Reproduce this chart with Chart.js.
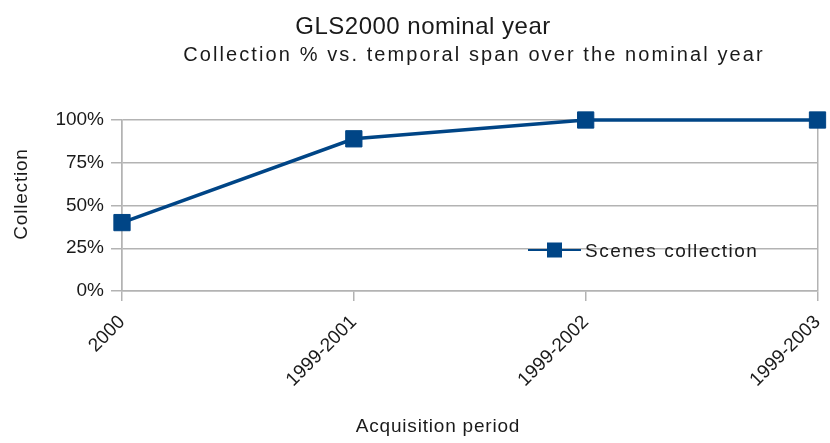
<!DOCTYPE html>
<html>
<head>
<meta charset="utf-8">
<script src="https://cdn.jsdelivr.net/npm/chart.js@4.4.0/dist/chart.umd.min.js"></script>
<style>
html,body{margin:0;padding:0;background:#fff;}
#wrap{width:830px;height:443px;position:relative;}
</style>
</head>
<body>
<div id="wrap"><canvas id="c"></canvas></div>
<script>
// ---- data ----
const chartTitle = 'GLS2000 nominal year';
const chartSubtitle = 'Collection % vs. temporal span over the nominal year';
const xAxisTitle = 'Acquisition period';
const yAxisTitle = 'Collection';
const categories = ['2000', '1999-2001', '1999-2002', '1999-2003'];
const seriesName = 'Scenes collection';
const collectionPct = [40, 89, 100, 100];
const yTickValues = [0, 25, 50, 75, 100];

// ---- style ----
const FONT = '"Liberation Sans", Arial, sans-serif';
const TEXT = '#1a1a1a';
const GRID = '#b3b3b3';
const BLUE = '#004586';

const decorations = {
  id: 'decorations',
  beforeDraw(chart) {
    const {ctx, width, height} = chart;
    ctx.save();
    ctx.fillStyle = '#fff';
    ctx.fillRect(0, 0, width, height);
    ctx.restore();
  },
  afterDraw(chart) {
    const ctx = chart.ctx;
    const a = chart.chartArea;
    ctx.save();
    ctx.fillStyle = TEXT;
    ctx.textBaseline = 'alphabetic';
    ctx.textAlign = 'center';
    // title
    ctx.font = '24px ' + FONT;
    ctx.letterSpacing = '0.5px';
    ctx.fillText(chartTitle, 423, 34);
    // subtitle
    ctx.font = '20px ' + FONT;
    ctx.letterSpacing = '2.1px';
    ctx.fillText(chartSubtitle, 474, 61);
    // x axis title
    ctx.font = '19px ' + FONT;
    ctx.letterSpacing = '0.8px';
    ctx.fillText(xAxisTitle, 438, 432);
    // y axis title
    ctx.save();
    ctx.translate(27, 194);
    ctx.rotate(-Math.PI / 2);
    ctx.fillText(yAxisTitle, 0, 0);
    ctx.restore();
    // legend (inside plot area)
    const ds = chart.data.datasets[0];
    const lx = a.left + 406, ly = a.top + 130;
    ctx.strokeStyle = ds.borderColor;
    ctx.lineWidth = 2;
    ctx.beginPath();
    ctx.moveTo(lx, ly);
    ctx.lineTo(lx + 53, ly);
    ctx.stroke();
    ctx.fillStyle = ds.borderColor;
    ctx.fillRect(lx + 19, ly - 7.5, 15, 15);
    ctx.fillStyle = TEXT;
    ctx.textAlign = 'left';
    ctx.letterSpacing = '1.5px';
    ctx.fillText(ds.label, lx + 57, ly + 7);
    ctx.restore();
  }
};

new Chart(document.getElementById('c'), {
  type: 'line',
  data: {
    labels: categories,
    datasets: [{
      label: seriesName,
      data: collectionPct,
      borderColor: BLUE,
      backgroundColor: BLUE,
      borderWidth: 3.5,
      pointStyle: 'rect',
      pointRadius: 11.5,
      pointBorderWidth: 1,
      pointBackgroundColor: BLUE,
      pointBorderColor: BLUE,
      tension: 0,
      fill: false,
      clip: false
    }]
  },
  options: {
    responsive: true,
    maintainAspectRatio: false,
    animation: false,
    layout: { padding: { top: 120, right: 0, bottom: 0, left: 0 } },
    plugins: {
      legend: { display: false },
      title: { display: false },
      tooltip: { enabled: false }
    },
    scales: {
      x: {
        type: 'category',
        offset: false,
        afterFit(scale) { scale.height = 152; scale.paddingRight = 0; },
        grid: {
          color: (c) => (c.index === 0 || c.index === categories.length - 1) ? GRID : 'rgba(0,0,0,0)',
          tickColor: GRID,
          lineWidth: 1.5,
          tickLength: 10,
          drawOnChartArea: true
        },
        border: { display: true, color: GRID, width: 1.5 },
        ticks: {
          autoSkip: false,
          minRotation: 45,
          maxRotation: 45,
          padding: 10,
          color: TEXT,
          font: { family: FONT, size: 19 }
        }
      },
      y: {
        min: 0,
        max: 100,
        afterFit(scale) { scale.width = 122; },
        afterBuildTicks(scale) { scale.ticks = yTickValues.map(v => ({ value: v })); },
        grid: { color: GRID, tickColor: GRID, lineWidth: 1.5, tickLength: 11 },
        border: { display: true, color: GRID, width: 1.5 },
        ticks: {
          padding: 7,
          color: TEXT,
          font: { family: FONT, size: 19 },
          callback: (v) => v + '%'
        }
      }
    }
  },
  plugins: [decorations]
});
</script>
</body>
</html>
